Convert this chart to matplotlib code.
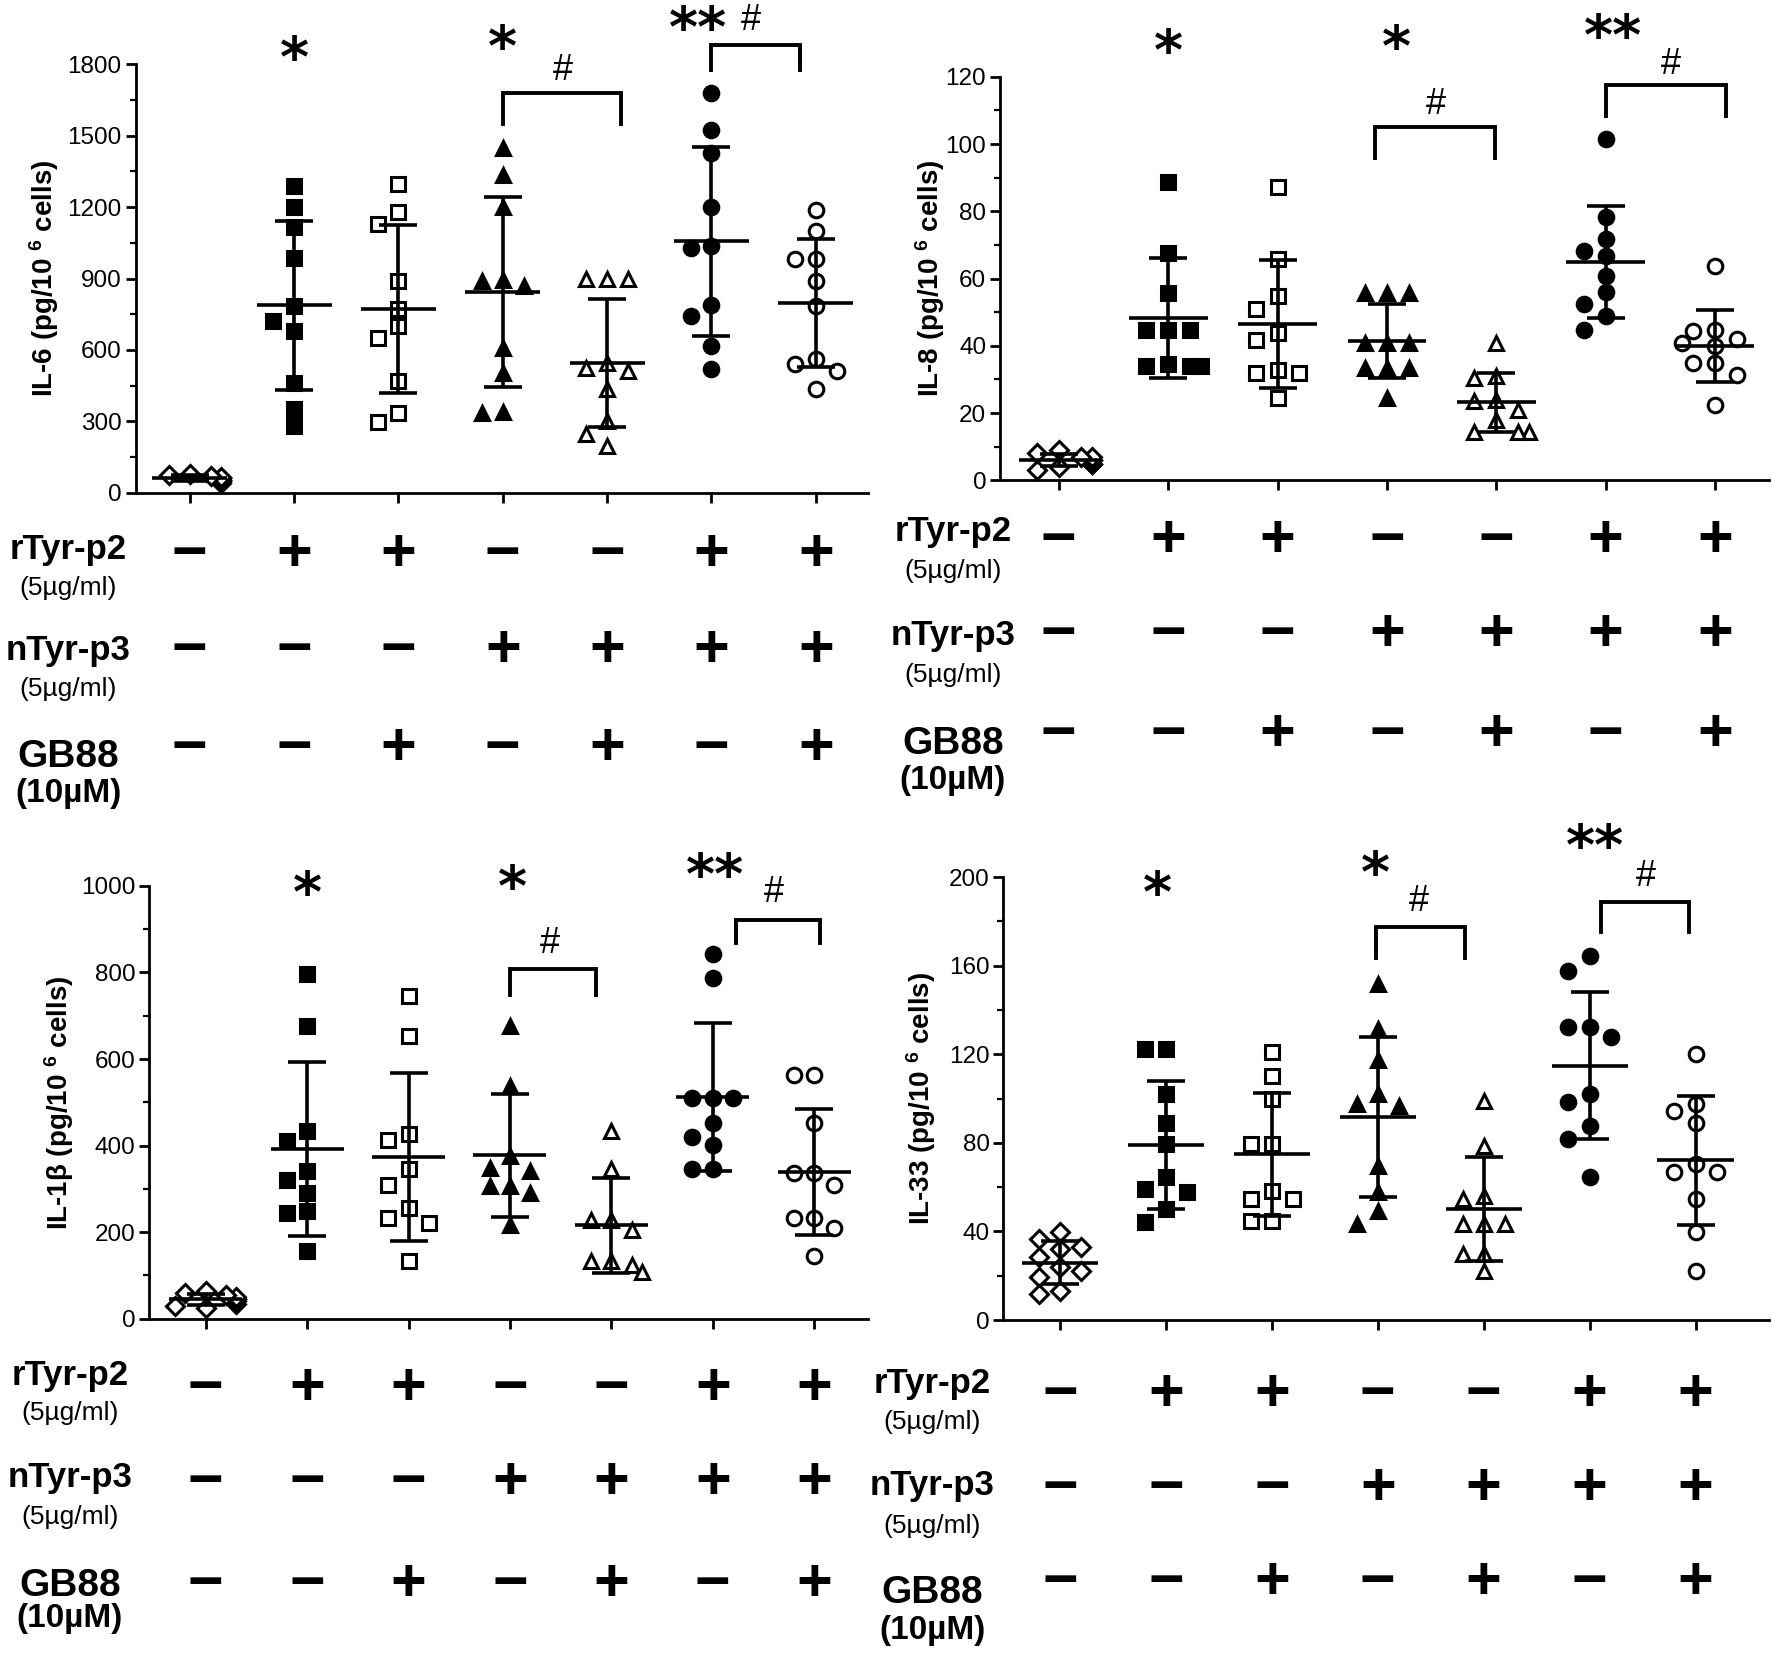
import numpy as np
import matplotlib.pyplot as plt
from matplotlib import transforms

plt.rcParams['font.family'] = ['Liberation Sans', 'DejaVu Sans']
plt.rcParams['mathtext.default'] = 'regular'

# 各组处理条件（7组）
rtyr_p2 = ['−', '+', '+', '−', '−', '+', '+']
ntyr_p3 = ['−', '−', '−', '+', '+', '+', '+']
gb88 = ['−', '−', '+', '−', '+', '−', '+']

# 每组的标记形状与是否实心
markers = ['D', 's', 's', '^', '^', 'o', 'o']
filled = [False, True, False, True, False, True, False]

# IL-6 (pg/10^6 cells)
il6 = [
    [40, 50, 55, 55, 60, 60, 65, 70, 75, 80],
    [1288, 1201, 1116, 987, 784, 721, 679, 462, 350, 280],
    [1298, 1180, 1130, 889, 770, 700, 651, 469, 336, 298],
    [1449, 1337, 1200, 895, 890, 870, 609, 504, 340, 336],
    [896, 896, 896, 546, 525, 511, 434, 301, 245, 196],
    [1680, 1526, 1428, 1201, 1036, 1029, 788, 742, 616, 518],
    [1190, 1099, 980, 980, 889, 784, 560, 539, 511, 434],
]

# IL-8 (pg/10^6 cells)
il8 = [
    [3, 4, 5, 5, 6, 6, 7, 7, 8, 9],
    [88.6, 67.5, 55.8, 44.8, 44.8, 44.8, 33.9, 33.9, 33.9, 34.5],
    [87.2, 65.7, 54.8, 50.8, 43.8, 41.8, 32.9, 31.9, 31.9, 24.4],
    [55.8, 55.8, 55.8, 40.8, 40.8, 40.8, 33.4, 33.4, 33.4, 24.4],
    [40.8, 31.0, 30.5, 24.0, 23.5, 21.0, 18.0, 14.5, 14.5, 14.5],
    [101.6, 78.2, 71.9, 68.2, 66.7, 60.8, 56.0, 52.3, 48.8, 44.8],
    [63.7, 44.8, 44.3, 42.0, 40.8, 39.8, 34.9, 34.9, 31.4, 22.4],
]

# IL-1β (pg/10^6 cells)
il1b = [
    [25, 30, 35, 40, 45, 45, 50, 55, 60, 65],
    [797, 676, 433, 410, 341, 321, 291, 248, 244, 156],
    [746, 653, 426, 414, 345, 310, 256, 233, 221, 133],
    [676, 537, 375, 348, 341, 306, 306, 291, 217],
    [433, 345, 229, 229, 206, 133, 133, 125, 109],
    [842, 788, 510, 510, 510, 453, 419, 402, 345, 345],
    [564, 564, 453, 337, 337, 310, 233, 233, 210, 144],
]

# IL-33 (pg/10^6 cells)
il33 = [
    [39.6, 36.6, 32.8, 32.0, 28.3, 23.8, 22.3, 19.3, 13.3, 11.7],
    [122.4, 122.4, 102.1, 88.9, 79.5, 64.5, 59.2, 57.7, 50.2, 44.1],
    [121.0, 110.4, 99.8, 79.5, 79.5, 58.4, 54.7, 54.7, 44.9, 44.9],
    [151.8, 131.5, 117.2, 102.1, 97.6, 96.8, 69.7, 57.7, 49.4, 43.4],
    [99.1, 78.8, 56.2, 54.7, 43.4, 43.4, 43.4, 29.8, 29.8, 22.3],
    [164.6, 157.8, 132.2, 132.2, 127.7, 102.1, 98.3, 87.8, 81.8, 64.5],
    [120.2, 97.6, 94.6, 88.9, 70.5, 66.7, 66.7, 54.7, 39.6, 22.3],
]


def swarm_offsets(values, ax, step=0.2, size_px=16):
    """按像素距离把重叠的点左右错开（类似蜂群图）"""
    bbox = ax.get_window_extent()
    x0, x1 = ax.get_xlim()
    y0, y1 = ax.get_ylim()
    sx = bbox.width / (x1 - x0)
    sy = bbox.height / (y1 - y0)
    values = np.asarray(values, dtype=float)
    order = np.argsort(values)[::-1]
    offsets = np.zeros(len(values))
    placed = []
    for i in order:
        y = values[i] * sy
        for k in [0, -1, 1, -1.5, 1.5]:
            x = k * step * sx
            if all((x - px) ** 2 + (y - py) ** 2 >= size_px ** 2 for px, py in placed):
                break
        offsets[i] = k * step
        placed.append((x, y))
    return offsets


def draw_panel(fig, rect, data, ylim, major, ylabel, label_x, xlim,
               stars, brackets, cond_x, cond_rows, sign_rows):
    ax = fig.add_axes(rect)
    ax.set_xlim(*xlim)
    ax.set_ylim(0, ylim)

    for i, vals in enumerate(data):
        vals = np.asarray(vals, dtype=float)
        off = swarm_offsets(vals, ax)
        face = 'black' if filled[i] else 'white'
        ms = {'D': 9.5, 's': 10.5, '^': 10, 'o': 10.5}[markers[i]]
        ax.plot(i + off, vals, linestyle='none', marker=markers[i], ms=ms,
                mfc=face, mec='black', mew=2.2, zorder=3, clip_on=False)
        # 均值 ± 标准差
        m = vals.mean()
        sd = vals.std(ddof=1)
        ax.errorbar(i, m, yerr=sd, fmt='none', ecolor='black', elinewidth=2.6,
                    capsize=14, capthick=2.6, zorder=4)
        ax.hlines(m, i - 0.36, i + 0.36, colors='black', lw=2.6, zorder=4)

    # 坐标轴样式
    for s in ['top', 'right']:
        ax.spines[s].set_visible(False)
    for s in ['left', 'bottom']:
        ax.spines[s].set_linewidth(2)
    ax.set_xticks(range(7))
    ax.set_xticklabels([])
    ax.set_yticks(np.arange(0, ylim + 1, major))
    ax.set_yticks(np.arange(0, ylim + 1, major / 2), minor=True)
    ax.tick_params(axis='both', which='major', length=7, width=2,
                   direction='out', labelsize=17.5, pad=3)
    ax.tick_params(axis='y', which='minor', length=4, width=1.6)
    ax.set_ylabel(ylabel, fontsize=20, fontweight='bold')
    ax.yaxis.set_label_coords(label_x, 0.5)

    # 显著性星号（往下挪一点，让字形居中）
    star_tr = transforms.offset_copy(ax.transData, fig=fig, y=-14, units='dots')
    for x, txt, y in stars:
        ax.text(x, y, txt, ha='center', va='center', fontsize=40,
                family='DejaVu Sans', fontweight='bold', clip_on=False,
                transform=star_tr)
    # 括号和 #
    for xl, xr, ytop, yleg, hx, hy in brackets:
        ax.plot([xl, xl, xr, xr], [yleg, ytop, ytop, yleg], color='black',
                lw=2.8, clip_on=False, solid_joinstyle='miter')
        ax.text(hx, hy, '#', ha='center', va='center', fontsize=26,
                clip_on=False)

    # 处理条件表
    names = [('rTyr-p2', '(5µg/ml)'), ('nTyr-p3', '(5µg/ml)'), ('GB88', '(10µM)')]
    for (name, dose), (y1, y2) in zip(names, cond_rows):
        gb = name == 'GB88'
        fig.text(cond_x, 1 - y1 / 1654, name, ha='center', va='center',
                 fontsize=28 if gb else 25, fontweight='bold')
        fig.text(cond_x, 1 - y2 / 1654, dose, ha='center', va='center',
                 fontsize=24 if gb else 19,
                 fontweight='bold' if gb else 'normal')
    trans = transforms.blended_transform_factory(ax.transData, fig.transFigure)
    for signs, yrow in zip([rtyr_p2, ntyr_p3, gb88], sign_rows):
        for i, s in enumerate(signs):
            ax.text(i, 1 - yrow / 1654, s, transform=trans, ha='center',
                    va='center', fontsize=44, fontweight='bold', clip_on=False)
    return ax


fig = plt.figure(figsize=(17.72, 16.54), dpi=100)

draw_panel(fig, [0.0765, 0.7021, 0.4133, 0.2590], il6, 1800, 300,
           'IL-6 (pg/10 $^{6}$ cells)', -0.102, (-0.52, 6.5),
           [(1, '*', 1871), (3, '*', 1919), (4.87, '**', 2000)],
           [(3, 4.13, 1681, 1548, 3.58, 1776), (5, 5.85, 1881, 1776, 5.38, 1985)],
           0.0384, [(550, 588), (650, 689), (757, 794)], [556, 652, 749])

draw_panel(fig, [0.5644, 0.7096, 0.4337, 0.2440], il8, 120, 20,
           'IL-8 (pg/10 $^{6}$ cells)', -0.0685, (-0.537, 6.49),
           [(1, '*', 131), (3.09, '*', 132), (5.07, '**', 135.4)],
           [(2.89, 3.99, 105.2, 95.8, 3.45, 111.6), (5.0, 6.1, 117.6, 108.2, 5.6, 123.7)],
           0.5378, [(531, 571), (635, 675), (744, 780)], [542, 635, 735])

draw_panel(fig, [0.0842, 0.2027, 0.4056, 0.2617], il1b, 1000, 200,
           'IL-1β (pg/10 $^{6}$ cells)', -0.102, (-0.557, 6.53),
           [(1, '*', 1010), (3.02, '*', 1023), (5.02, '**', 1050)],
           [(3.0, 3.85, 807, 749, 3.39, 867), (5.23, 6.06, 922, 867, 5.6, 984)],
           0.0395, [(1375, 1413), (1477, 1517), (1586, 1619)], [1390, 1484, 1586])

draw_panel(fig, [0.5663, 0.2019, 0.4318, 0.2678], il33, 200, 40,
           'IL-33 (pg/10 $^{6}$ cells)', -0.086, (-0.534, 6.69),
           [(0.92, '*', 198), (2.98, '*', 207), (5.05, '**', 219)],
           [(2.98, 3.82, 177.6, 163.3, 3.39, 189), (5.11, 5.94, 188.8, 175, 5.53, 200.5)],
           0.526, [(1384, 1422), (1486, 1526), (1593, 1631)], [1396, 1489, 1584])

fig.savefig('out.png', dpi=100)
